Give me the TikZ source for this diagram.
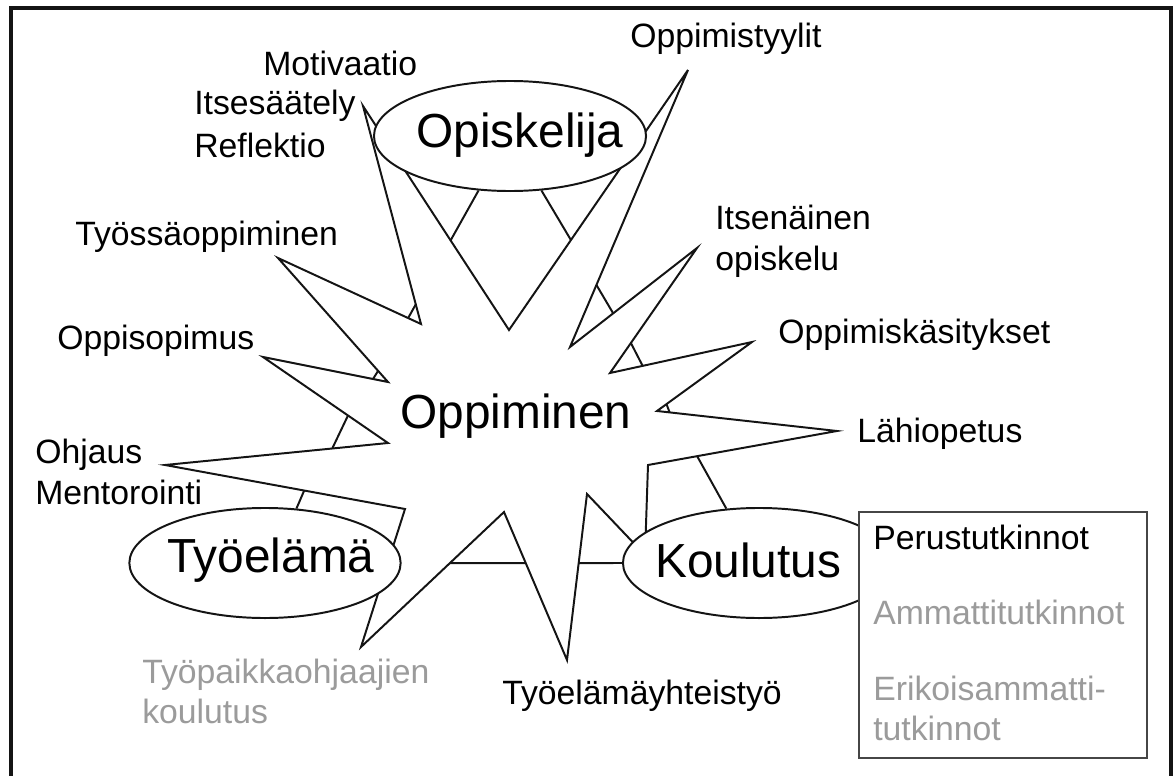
\documentclass[tikz,border=0pt]{standalone}
\usepackage{fontspec}
\setmainfont{Liberation Sans}
\usepackage{tikz}
\usetikzlibrary{shapes.geometric, calc}
\definecolor{mydark}{RGB}{20,20,20}
\definecolor{mygray}{RGB}{155,155,155}
\definecolor{myboxline}{RGB}{70,70,70}
\tikzset{
  pallo/.style={ellipse, draw=mydark, fill=white, line width=1.4pt,
    minimum width=6.8cm, minimum height=2.75cm, inner sep=0pt},
  isoteksti/.style={font=\fontsize{34}{40}\selectfont, anchor=base west, inner sep=0pt},
  teksti/.style={font=\fontsize{24}{29}\selectfont, anchor=base west, inner sep=0pt},
  harmaa/.style={teksti, text=mygray},
  viiva/.style={line width=1.4pt, color=mydark},
  laatikko/.style={draw=myboxline, fill=white, line width=1.1pt}
}

\begin{document}
\begin{tikzpicture}[x=0.025cm, y=-0.025cm]
  \useasboundingbox (0,0) rectangle (1173,776);
  % frame, bottom edge falls outside
  \draw[line width=2.2pt, color=mydark] (11,776) -- (11,8) -- (1171,8) -- (1171,776);

  % star points
  \coordinate (t1) at (363,106);
  \coordinate (vb) at (509,330);
  \coordinate (t2) at (688,70);
  \coordinate (v3) at (570,347);
  \coordinate (t4) at (697,248);
  \coordinate (v5) at (610,373);
  \coordinate (t6) at (752,342);
  \coordinate (v7) at (657,411);
  \coordinate (t8) at (837,431);
  \coordinate (v9) at (648,465);
  \coordinate (h1) at (645,555);
  \coordinate (v10) at (587,494);
  \coordinate (t11) at (567,660);
  \coordinate (v12) at (504,512);
  \coordinate (t13) at (361,647);
  \coordinate (v14) at (405,509);
  \coordinate (t15) at (165,465);
  \coordinate (v16) at (388,443);
  \coordinate (t17) at (263,357);
  \coordinate (v18) at (388,382);
  \coordinate (t19) at (278,258);
  \coordinate (va) at (421,324);

  \draw[viiva] (t1) -- (vb) -- (t2) -- (v3) -- (t4) -- (v5) -- (t6) -- (v7)
    -- (t8) -- (v9) -- (h1) -- (v10) -- (t11) -- (v12) -- (t13) -- (v14)
    -- (t15) -- (v16) -- (t17) -- (v18) -- (t19) -- (va) -- cycle;

  \node[pallo] (opisk) at (510,136) {};
  \node[pallo, minimum width=6.78cm] (tyoel) at (265,563) {};
  \node[pallo] (koul) at (759,563) {};

  % corner cuts
  \draw[viiva] ($(va)!0.09!(t19)$) -- ($(va)!0.09!(t1)$);
  \draw[viiva] ($(v18)!0.12!(t17)$) -- ($(v18)!0.09!(t19)$);
  \draw[viiva] ($(v16)!0.25!(t15)$) -- ($(v16)!0.32!(t17)$);
  \draw[viiva] ($(v14)!0.42!(t15)$) -- (tyoel.60);
  \draw[viiva] ($(v12)!0.378!(t13)$) -- ($(v12)!0.345!(t11)$);
  \draw[viiva] ($(v10)!0.416!(t11)$) -- (koul.west);
  \draw[viiva] ($(v9)!0.26!(t8)$) -- (koul.121);
  \draw[viiva] ($(v7)!0.1!(t6)$) -- ($(v7)!0.07!(t8)$);
  \draw[viiva] ($(v5)!0.24!(t4)$) -- ($(v5)!0.23!(t6)$);
  \draw[viiva] ($(v3)!0.224!(t2)$) -- ($(v3)!0.34!(t4)$);
  \draw[viiva] ($(vb)!0.40!(t1)$) -- (opisk.-120);
  \draw[viiva] ($(vb)!0.346!(t2)$) -- (opisk.-60);

  \node[laatikko, minimum width=7.2cm, minimum height=6.15cm, anchor=north west]
    (tutk) at (858,511) {};

  \node[isoteksti] (opisktxt) at (416,147) {Opiskelija};
  \node[isoteksti] (oppim) at (400,428) {Oppiminen};
  \node[isoteksti] (tyoeltxt) at (167,572) {Työelämä};
  \node[isoteksti] (koultxt) at (655,577) {Koulutus};

  \node[teksti] (motiv) at (263,75) {Motivaatio};
  \node[teksti] (itses) at (194,114) {Itsesäätely};
  \node[teksti] (refle) at (194,157) {Reflektio};
  \node[teksti] (tyyli) at (630,48) {Oppimistyylit};
  \node[teksti] (tyoss) at (75,245) {Työssäoppiminen};
  \node[teksti] (itsen) at (715,229) {Itsenäinen};
  \node[teksti] (opisku) at (715,270) {opiskelu};
  \node[teksti] (sopim) at (57,349) {Oppisopimus};
  \node[teksti] (kasit) at (778,343) {Oppimiskäsitykset};
  \node[teksti] (lahio) at (857,442) {Lähiopetus};
  \node[teksti] (ohjaus) at (35,463) {Ohjaus};
  \node[teksti] (mento) at (35,504) {Mentorointi};
  \node[harmaa] (tpo) at (142,683) {Työpaikkaohjaajien};
  \node[harmaa] (tpokoul) at (142,723) {koulutus};
  \node[teksti] (yhteis) at (502,704) {Työelämäyhteistyö};
  \node[teksti] (perus) at (873,549) {Perustutkinnot};
  \node[harmaa] (ammat) at (873,624) {Ammattitutkinnot};
  \node[harmaa] (erik) at (873,700) {Erikoisammatti-};
  \node[harmaa] (erik2) at (873,740) {tutkinnot};
\end{tikzpicture}
\end{document}
